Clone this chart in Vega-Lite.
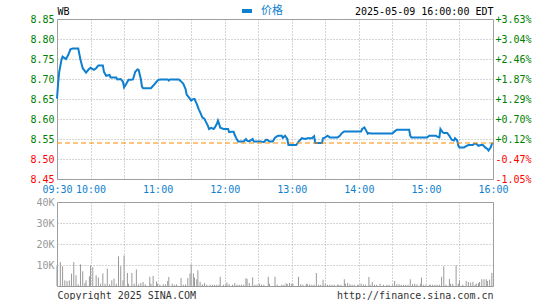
{
  "$schema": "https://vega.github.io/schema/vega-lite/v6.json",
  "padding": {"left": 29, "top": 4, "right": 4, "bottom": 2},
  "background": "white",
  "bounds": "flush",
  "spacing": 23,
  "config": {
    "font": "DejaVu Sans Mono",
    "view": {"stroke": "#999999", "strokeWidth": 1},
    "axis": {
      "labelFont": "DejaVu Sans Mono",
      "labelFontSize": 10,
      "ticks": false,
      "tickSize": 0,
      "domain": false,
      "title": null,
      "gridColor": "#aaaaaa",
      "gridDash": [1, 2],
      "gridOpacity": 1,
      "labelFlush": false,
      "labelOverlap": false
    }
  },
  "datasets": {
    "price": [
      {"minute": 0, "price": 8.651}, {"minute": 1, "price": 8.689}, {"minute": 2, "price": 8.718}, {"minute": 4, "price": 8.748},
      {"minute": 5, "price": 8.756}, {"minute": 8, "price": 8.75}, {"minute": 10, "price": 8.76}, {"minute": 12, "price": 8.774},
      {"minute": 14, "price": 8.776}, {"minute": 19, "price": 8.776}, {"minute": 21, "price": 8.748}, {"minute": 23, "price": 8.727},
      {"minute": 26, "price": 8.716}, {"minute": 28, "price": 8.723}, {"minute": 30, "price": 8.728}, {"minute": 33, "price": 8.723},
      {"minute": 35, "price": 8.727}, {"minute": 37, "price": 8.734}, {"minute": 41, "price": 8.734}, {"minute": 42, "price": 8.718},
      {"minute": 44, "price": 8.708}, {"minute": 47, "price": 8.71}, {"minute": 48, "price": 8.704}, {"minute": 53, "price": 8.704},
      {"minute": 54, "price": 8.699}, {"minute": 57, "price": 8.7}, {"minute": 59, "price": 8.693}, {"minute": 60, "price": 8.679},
      {"minute": 62, "price": 8.688}, {"minute": 64, "price": 8.698}, {"minute": 66, "price": 8.698}, {"minute": 68, "price": 8.699},
      {"minute": 70, "price": 8.718}, {"minute": 72, "price": 8.724}, {"minute": 73, "price": 8.723}, {"minute": 75, "price": 8.7},
      {"minute": 76, "price": 8.681}, {"minute": 77, "price": 8.677}, {"minute": 84, "price": 8.677}, {"minute": 86, "price": 8.683},
      {"minute": 89, "price": 8.693}, {"minute": 91, "price": 8.698}, {"minute": 93, "price": 8.699}, {"minute": 99, "price": 8.699},
      {"minute": 100, "price": 8.696}, {"minute": 101, "price": 8.699}, {"minute": 109, "price": 8.699}, {"minute": 111, "price": 8.694},
      {"minute": 113, "price": 8.688}, {"minute": 115, "price": 8.675}, {"minute": 116, "price": 8.661}, {"minute": 118, "price": 8.654},
      {"minute": 120, "price": 8.646}, {"minute": 122, "price": 8.65}, {"minute": 123, "price": 8.65}, {"minute": 125, "price": 8.638},
      {"minute": 127, "price": 8.623}, {"minute": 128, "price": 8.617}, {"minute": 130, "price": 8.604}, {"minute": 132, "price": 8.6},
      {"minute": 133, "price": 8.594}, {"minute": 135, "price": 8.583}, {"minute": 136, "price": 8.575}, {"minute": 138, "price": 8.578},
      {"minute": 140, "price": 8.575}, {"minute": 141, "price": 8.578}, {"minute": 143, "price": 8.588}, {"minute": 144, "price": 8.596},
      {"minute": 145, "price": 8.588}, {"minute": 146, "price": 8.578}, {"minute": 149, "price": 8.575}, {"minute": 153, "price": 8.575},
      {"minute": 154, "price": 8.567}, {"minute": 156, "price": 8.568}, {"minute": 158, "price": 8.568}, {"minute": 159, "price": 8.56},
      {"minute": 160, "price": 8.554}, {"minute": 162, "price": 8.544}, {"minute": 167, "price": 8.544}, {"minute": 169, "price": 8.55},
      {"minute": 170, "price": 8.546}, {"minute": 172, "price": 8.544}, {"minute": 175, "price": 8.55}, {"minute": 176, "price": 8.544},
      {"minute": 182, "price": 8.544}, {"minute": 185, "price": 8.542}, {"minute": 187, "price": 8.548}, {"minute": 188, "price": 8.548},
      {"minute": 190, "price": 8.544}, {"minute": 193, "price": 8.544}, {"minute": 195, "price": 8.553}, {"minute": 197, "price": 8.557},
      {"minute": 198, "price": 8.558}, {"minute": 201, "price": 8.558}, {"minute": 202, "price": 8.553}, {"minute": 204, "price": 8.558},
      {"minute": 206, "price": 8.55}, {"minute": 207, "price": 8.535}, {"minute": 214, "price": 8.535}, {"minute": 216, "price": 8.543},
      {"minute": 219, "price": 8.552}, {"minute": 222, "price": 8.55}, {"minute": 224, "price": 8.552}, {"minute": 228, "price": 8.552},
      {"minute": 230, "price": 8.557}, {"minute": 231, "price": 8.54}, {"minute": 237, "price": 8.54}, {"minute": 238, "price": 8.552},
      {"minute": 240, "price": 8.554}, {"minute": 242, "price": 8.558}, {"minute": 244, "price": 8.554}, {"minute": 251, "price": 8.554},
      {"minute": 253, "price": 8.558}, {"minute": 255, "price": 8.565}, {"minute": 257, "price": 8.569}, {"minute": 272, "price": 8.569},
      {"minute": 273, "price": 8.575}, {"minute": 275, "price": 8.579}, {"minute": 278, "price": 8.563}, {"minute": 279, "price": 8.565},
      {"minute": 281, "price": 8.564}, {"minute": 300, "price": 8.564}, {"minute": 302, "price": 8.569}, {"minute": 304, "price": 8.573},
      {"minute": 315, "price": 8.573}, {"minute": 316, "price": 8.558}, {"minute": 317, "price": 8.554}, {"minute": 331, "price": 8.554},
      {"minute": 333, "price": 8.558}, {"minute": 339, "price": 8.558}, {"minute": 340, "price": 8.556}, {"minute": 342, "price": 8.554},
      {"minute": 343, "price": 8.575}, {"minute": 345, "price": 8.567}, {"minute": 346, "price": 8.565}, {"minute": 349, "price": 8.565},
      {"minute": 351, "price": 8.558}, {"minute": 353, "price": 8.548}, {"minute": 355, "price": 8.546}, {"minute": 356, "price": 8.552},
      {"minute": 358, "price": 8.546}, {"minute": 359, "price": 8.533}, {"minute": 360, "price": 8.529}, {"minute": 364, "price": 8.529},
      {"minute": 366, "price": 8.532}, {"minute": 368, "price": 8.535}, {"minute": 372, "price": 8.535}, {"minute": 373, "price": 8.538},
      {"minute": 375, "price": 8.538}, {"minute": 377, "price": 8.533}, {"minute": 379, "price": 8.535}, {"minute": 381, "price": 8.535},
      {"minute": 383, "price": 8.529}, {"minute": 385, "price": 8.525}, {"minute": 386, "price": 8.521}, {"minute": 388, "price": 8.529},
      {"minute": 389, "price": 8.538}, {"minute": 390, "price": 8.54}
    ],
    "volume": [
      {"minute": 0, "volume": 9800}, {"minute": 3, "volume": 11400}, {"minute": 5, "volume": 9400}, {"minute": 7, "volume": 2700},
      {"minute": 9, "volume": 2400}, {"minute": 11, "volume": 2700}, {"minute": 13, "volume": 5900}, {"minute": 15, "volume": 11400},
      {"minute": 17, "volume": 5100}, {"minute": 19, "volume": 800}, {"minute": 21, "volume": 10300}, {"minute": 23, "volume": 7000},
      {"minute": 25, "volume": 1400}, {"minute": 26, "volume": 2700}, {"minute": 29, "volume": 4600}, {"minute": 30, "volume": 9800},
      {"minute": 32, "volume": 9000}, {"minute": 35, "volume": 5100}, {"minute": 37, "volume": 4000}, {"minute": 39, "volume": 1100},
      {"minute": 41, "volume": 6000}, {"minute": 43, "volume": 1100}, {"minute": 45, "volume": 8300}, {"minute": 47, "volume": 800},
      {"minute": 49, "volume": 2700}, {"minute": 51, "volume": 3500}, {"minute": 53, "volume": 1100}, {"minute": 55, "volume": 14100},
      {"minute": 57, "volume": 9400}, {"minute": 59, "volume": 2700}, {"minute": 60, "volume": 14600}, {"minute": 63, "volume": 6200},
      {"minute": 64, "volume": 1100}, {"minute": 67, "volume": 6200}, {"minute": 69, "volume": 1100}, {"minute": 71, "volume": 7900},
      {"minute": 73, "volume": 800}, {"minute": 75, "volume": 1400}, {"minute": 77, "volume": 1900}, {"minute": 79, "volume": 800},
      {"minute": 83, "volume": 4400}, {"minute": 84, "volume": 1100}, {"minute": 86, "volume": 4800}, {"minute": 89, "volume": 2200},
      {"minute": 90, "volume": 1100}, {"minute": 92, "volume": 600}, {"minute": 95, "volume": 800}, {"minute": 97, "volume": 800},
      {"minute": 99, "volume": 2400}, {"minute": 100, "volume": 4300}, {"minute": 103, "volume": 1100}, {"minute": 105, "volume": 600},
      {"minute": 107, "volume": 800}, {"minute": 111, "volume": 3800}, {"minute": 113, "volume": 600}, {"minute": 115, "volume": 800},
      {"minute": 117, "volume": 3800}, {"minute": 119, "volume": 6000}, {"minute": 120, "volume": 10300}, {"minute": 122, "volume": 6000},
      {"minute": 123, "volume": 4000}, {"minute": 125, "volume": 3200}, {"minute": 126, "volume": 7500}, {"minute": 128, "volume": 2000},
      {"minute": 130, "volume": 800}, {"minute": 132, "volume": 1400}, {"minute": 134, "volume": 600}, {"minute": 137, "volume": 600},
      {"minute": 139, "volume": 600}, {"minute": 141, "volume": 600}, {"minute": 143, "volume": 600}, {"minute": 145, "volume": 600},
      {"minute": 146, "volume": 4400}, {"minute": 149, "volume": 600}, {"minute": 151, "volume": 600}, {"minute": 152, "volume": 1700},
      {"minute": 154, "volume": 900}, {"minute": 157, "volume": 600}, {"minute": 159, "volume": 1400}, {"minute": 161, "volume": 600},
      {"minute": 163, "volume": 600}, {"minute": 165, "volume": 600}, {"minute": 167, "volume": 600}, {"minute": 169, "volume": 3700},
      {"minute": 170, "volume": 3300}, {"minute": 172, "volume": 1400}, {"minute": 175, "volume": 4100}, {"minute": 177, "volume": 600},
      {"minute": 179, "volume": 600}, {"minute": 181, "volume": 1100}, {"minute": 183, "volume": 600}, {"minute": 185, "volume": 600},
      {"minute": 189, "volume": 4400}, {"minute": 190, "volume": 1100}, {"minute": 195, "volume": 4400}, {"minute": 197, "volume": 600},
      {"minute": 201, "volume": 600}, {"minute": 203, "volume": 600}, {"minute": 205, "volume": 1300}, {"minute": 206, "volume": 900},
      {"minute": 208, "volume": 1400}, {"minute": 210, "volume": 1100}, {"minute": 211, "volume": 1100}, {"minute": 216, "volume": 4400},
      {"minute": 218, "volume": 800}, {"minute": 220, "volume": 600}, {"minute": 223, "volume": 1100}, {"minute": 224, "volume": 800},
      {"minute": 226, "volume": 800}, {"minute": 228, "volume": 600}, {"minute": 230, "volume": 600}, {"minute": 232, "volume": 6200},
      {"minute": 234, "volume": 600}, {"minute": 236, "volume": 600}, {"minute": 238, "volume": 3000}, {"minute": 240, "volume": 1100},
      {"minute": 242, "volume": 600}, {"minute": 244, "volume": 600}, {"minute": 246, "volume": 600}, {"minute": 248, "volume": 600},
      {"minute": 251, "volume": 600}, {"minute": 252, "volume": 600}, {"minute": 254, "volume": 600}, {"minute": 257, "volume": 3200},
      {"minute": 258, "volume": 1100}, {"minute": 260, "volume": 1400}, {"minute": 262, "volume": 800}, {"minute": 264, "volume": 600},
      {"minute": 266, "volume": 600}, {"minute": 269, "volume": 600}, {"minute": 270, "volume": 600}, {"minute": 272, "volume": 1100},
      {"minute": 274, "volume": 800}, {"minute": 276, "volume": 600}, {"minute": 279, "volume": 4300}, {"minute": 280, "volume": 600},
      {"minute": 282, "volume": 1900}, {"minute": 284, "volume": 600}, {"minute": 286, "volume": 600}, {"minute": 289, "volume": 1100},
      {"minute": 292, "volume": 600}, {"minute": 295, "volume": 600}, {"minute": 297, "volume": 600}, {"minute": 300, "volume": 600},
      {"minute": 302, "volume": 2400}, {"minute": 304, "volume": 800}, {"minute": 306, "volume": 800}, {"minute": 308, "volume": 600},
      {"minute": 310, "volume": 600}, {"minute": 312, "volume": 600}, {"minute": 314, "volume": 600}, {"minute": 316, "volume": 3200},
      {"minute": 318, "volume": 900}, {"minute": 320, "volume": 1100}, {"minute": 322, "volume": 800}, {"minute": 325, "volume": 1100},
      {"minute": 326, "volume": 4000}, {"minute": 328, "volume": 600}, {"minute": 330, "volume": 600}, {"minute": 333, "volume": 600},
      {"minute": 334, "volume": 600}, {"minute": 336, "volume": 600}, {"minute": 338, "volume": 600}, {"minute": 340, "volume": 600},
      {"minute": 342, "volume": 600}, {"minute": 344, "volume": 4400}, {"minute": 346, "volume": 9400}, {"minute": 348, "volume": 600},
      {"minute": 351, "volume": 3300}, {"minute": 352, "volume": 1100}, {"minute": 354, "volume": 1100}, {"minute": 357, "volume": 9800},
      {"minute": 359, "volume": 1100}, {"minute": 360, "volume": 2700}, {"minute": 363, "volume": 600}, {"minute": 366, "volume": 2400},
      {"minute": 368, "volume": 1900}, {"minute": 370, "volume": 1600}, {"minute": 372, "volume": 2000}, {"minute": 374, "volume": 600},
      {"minute": 375, "volume": 1100}, {"minute": 377, "volume": 1400}, {"minute": 378, "volume": 1900}, {"minute": 380, "volume": 3200},
      {"minute": 382, "volume": 3200}, {"minute": 384, "volume": 3200}, {"minute": 385, "volume": 2400}, {"minute": 387, "volume": 3000},
      {"minute": 389, "volume": 6200}
    ]
  },
  "resolve": {"scale": {"x": "independent"}, "axis": {"x": "independent"}},
  "vconcat": [
    {
      "width": 436,
      "height": 160,
      "layer": [
        {
          "data": {"name": "price"},
          "mark": {"type": "line", "strokeWidth": 2, "interpolate": "linear"},
          "encoding": {
            "x": {
              "field": "minute", "type": "quantitative",
              "scale": {"domain": [0, 390], "nice": false, "zero": false},
              "axis": {
                "orient": "bottom",
                "values": [0, 30, 60, 90, 120, 150, 180, 210, 240, 270, 300, 330, 360, 390],
                "labelExpr": "['09:30','10:00','','11:00','','12:00','','13:00','','14:00','','15:00','','16:00'][round(datum.value/30)]",
                "labelColor": "#0f7fd0",
                "labelPadding": 5,
                "labelBaseline": "top",
                "grid": true
              }
            },
            "y": {
              "field": "price", "type": "quantitative",
              "scale": {"domain": [8.45, 8.85], "nice": false, "zero": false},
              "axis": {
                "orient": "left",
                "values": [8.45, 8.5, 8.55, 8.6, 8.65, 8.7, 8.75, 8.8, 8.85],
                "format": ".2f",
                "labelColor": {"condition": {"test": "datum.value > 8.545", "value": "#008000"}, "value": "#ff0000"},
                "labelPadding": 3,
                "grid": true
              }
            },
            "color": {
              "datum": "价格", "type": "nominal",
              "scale": {"range": ["#0f7fd0"]},
              "legend": {
                "orient": "none", "legendX": 183, "legendY": -15, "direction": "horizontal",
                "title": null, "symbolType": "stroke", "symbolStrokeWidth": 4, "symbolSize": 100,
                "labelColor": "#0f7fd0", "labelFont": "Noto Sans CJK SC", "labelFontSize": 11,
                "labelOffset": 7, "padding": 0
              }
            }
          }
        },
        {
          "data": {"values": [{"prevClose": 8.54}]},
          "mark": {"type": "rule", "color": "#ff8c00", "strokeDash": [5, 3], "strokeWidth": 1},
          "encoding": {
            "x": {
              "datum": 0, "type": "quantitative",
              "axis": {
                "orient": "top",
                "values": [0, 390],
                "labelExpr": "datum.value == 0 ? 'WB' : '2025-05-09 16:00:00 EDT'",
                "labelAlign": {"condition": {"test": "datum.value == 0", "value": "left"}, "value": "right"},
                "labelColor": "#000000",
                "labelPadding": 3,
                "labelBaseline": "bottom",
                "grid": false
              }
            },
            "x2": {"datum": 390},
            "y": {
              "field": "prevClose", "type": "quantitative",
              "axis": {
                "orient": "right",
                "values": [8.45, 8.5, 8.55, 8.6, 8.65, 8.7, 8.75, 8.8, 8.85],
                "labelExpr": "(datum.value >= 8.54 ? '+' : '-') + format(abs(datum.value / 8.54 - 1) * 100, '.2f') + '%'",
                "labelColor": {"condition": {"test": "datum.value > 8.545", "value": "#008000"}, "value": "#ff0000"},
                "labelPadding": 2,
                "grid": false
              }
            }
          }
        }
      ],
      "resolve": {"axis": {"x": "independent", "y": "independent"}}
    },
    {
      "width": 436,
      "height": 84,
      "data": {"name": "volume"},
      "mark": {"type": "rule", "color": "#999999", "strokeWidth": 1},
      "encoding": {
        "x": {
          "field": "minute", "type": "quantitative",
          "scale": {"domain": [0, 390], "nice": false, "zero": false},
          "axis": {
            "values": [0, 30, 60, 90, 120, 150, 180, 210, 240, 270, 300, 330, 360, 390],
            "labelExpr": "datum.value == 0 ? 'Copyright 2025 SINA.COM' : (datum.value == 390 ? 'http://finance.sina.com.cn' : '')",
            "labelAlign": {"condition": {"test": "datum.value == 0", "value": "left"}, "value": "right"},
            "labelColor": "#333333",
            "labelPadding": 4,
            "labelBaseline": "top",
            "grid": true
          }
        },
        "y": {
          "field": "volume", "type": "quantitative",
          "scale": {"domain": [0, 40000], "nice": false},
          "axis": {
            "values": [10000, 20000, 30000, 40000],
            "labelExpr": "(datum.value / 1000) + 'K'",
            "labelColor": "#999999",
            "labelPadding": 3,
            "grid": true
          }
        },
        "y2": {"datum": 0}
      }
    }
  ]
}
